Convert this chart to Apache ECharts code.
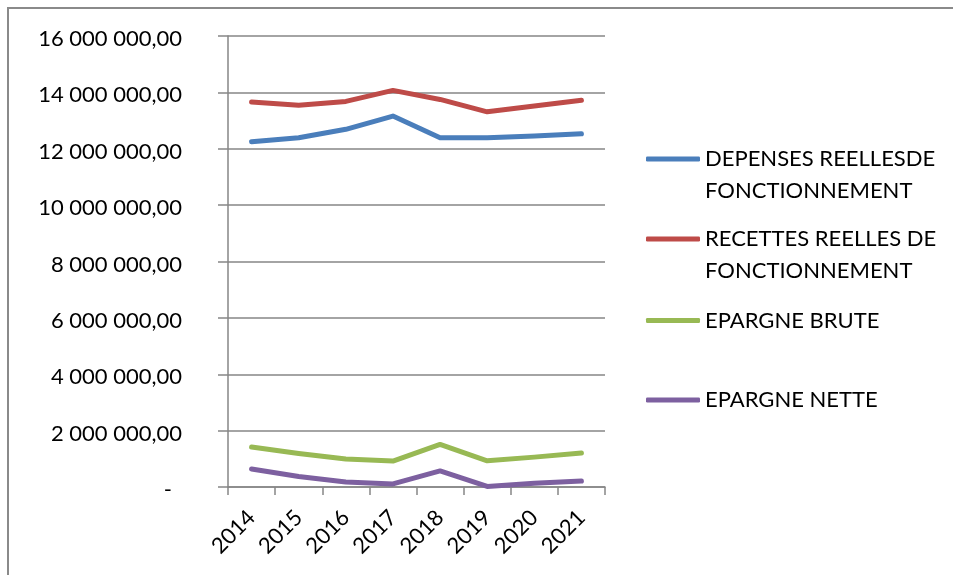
<!DOCTYPE html>
<html>
<head>
<meta charset="utf-8">
<title>Dépenses, recettes et épargne de fonctionnement 2014-2021</title>
<script src="https://cdn.jsdelivr.net/npm/echarts@6/dist/echarts.min.js"></script>
<style>
  html, body { margin: 0; padding: 0; background: #ffffff; }
  #chart { width: 953px; height: 575px; }
</style>
</head>
<body>
<div id="chart"></div>
<script>
// Years on the category axis
const years = ['2014', '2015', '2016', '2017', '2018', '2019', '2020', '2021'];

// Series values (euros)
const depenses = [12250000, 12390000, 12690000, 13160000, 12390000, 12390000, 12450000, 12530000];
const recettes = [13660000, 13540000, 13680000, 14070000, 13750000, 13310000, 13520000, 13720000];
const epargneBrute = [1420000, 1190000, 990000, 920000, 1510000, 930000, 1060000, 1210000];
const epargneNette = [640000, 370000, 180000, 110000, 570000, 20000, 130000, 210000];

// Series names as shown in the legend
const seriesNames = [
  'DEPENSES REELLESDE\nFONCTIONNEMENT',
  'RECETTES REELLES DE\nFONCTIONNEMENT',
  'EPARGNE BRUTE',
  'EPARGNE NETTE'
];
const seriesData = [depenses, recettes, epargneBrute, epargneNette];
const seriesColors = ['#4a7ebb', '#be4b48', '#98b954', '#7d60a0'];

// Y axis range
const yMin = 0;
const yMax = 16000000;
const yStep = 2000000;

const FONT = 'Lato';
const FONT_SIZE = 22;
const GREY = '#868686';

function formatAmount(v) {
  if (v === 0) return '{z|-}';
  const s = String(Math.round(v)).replace(/\B(?=(\d{3})+(?!\d))/g, ' ');
  return s + ',00';
}

// One legend block per series; two-line names get an empty leading line
// so that the icon sits level with the first line of text.
const legendIconY = [159, 239, 320.5, 400];
const LINE_H = 31.5;
const legends = seriesNames.map(function (name, i) {
  const lines = name.split('\n').length;
  const shown = lines > 1 ? lines + 1 : 1;
  const blockH = shown * LINE_H;
  return {
    data: [name],
    orient: 'vertical',
    left: 646,
    top: legendIconY[i] - blockH / 2,
    padding: 0,
    itemWidth: 54,
    itemHeight: 5,
    icon: 'roundRect',
    selectedMode: false,
    formatter: function (n) { return lines > 1 ? '\n' + n : n; },
    textStyle: {
      fontFamily: FONT,
      fontSize: FONT_SIZE,
      color: '#000000',
      lineHeight: LINE_H
    }
  };
});

const chart = echarts.init(document.getElementById('chart'), null, { renderer: 'canvas' });

chart.setOption({
  backgroundColor: '#ffffff',
  animation: false,
  graphic: [{
    type: 'rect',
    silent: true,
    shape: { x: 8, y: 8, width: 1200, height: 1000 },
    style: { fill: 'none', stroke: '#8a8a8a', lineWidth: 2 }
  }],
  grid: { left: 228, right: 348, top: 36, bottom: 88 },
  legend: legends,
  xAxis: {
    type: 'category',
    data: years,
    boundaryGap: true,
    axisLine: { lineStyle: { color: GREY, width: 1.5 } },
    axisTick: { show: true, length: 8, alignWithLabel: false, lineStyle: { color: GREY, width: 1.5 } },
    axisLabel: {
      rotate: 45,
      margin: 27,
      padding: [21, 0, 0, 0],
      fontFamily: FONT,
      fontSize: FONT_SIZE,
      color: '#000000',
      interval: 0
    },
    splitLine: { show: false }
  },
  yAxis: {
    type: 'value',
    min: yMin,
    max: yMax,
    interval: yStep,
    axisLine: { show: true, lineStyle: { color: GREY, width: 1.5 } },
    axisTick: { show: true, length: 10, lineStyle: { color: GREY, width: 1.5 } },
    splitLine: { show: true, lineStyle: { color: GREY, width: 1.5 } },
    axisLabel: {
      margin: 46,
      padding: [6, 0, 0, 0],
      fontFamily: FONT,
      fontSize: FONT_SIZE,
      color: '#000000',
      formatter: formatAmount,
      rich: {
        z: { fontFamily: FONT, fontSize: FONT_SIZE, color: '#000000', padding: [0, 10, 0, 0] }
      }
    }
  },
  series: seriesNames.map(function (name, i) {
    return {
      name: name,
      type: 'line',
      data: seriesData[i],
      symbol: 'none',
      smooth: false,
      color: seriesColors[i],
      lineStyle: { width: 5, color: seriesColors[i], cap: 'round', join: 'round' },
      itemStyle: { color: seriesColors[i] }
    };
  })
});
</script>
</body>
</html>
